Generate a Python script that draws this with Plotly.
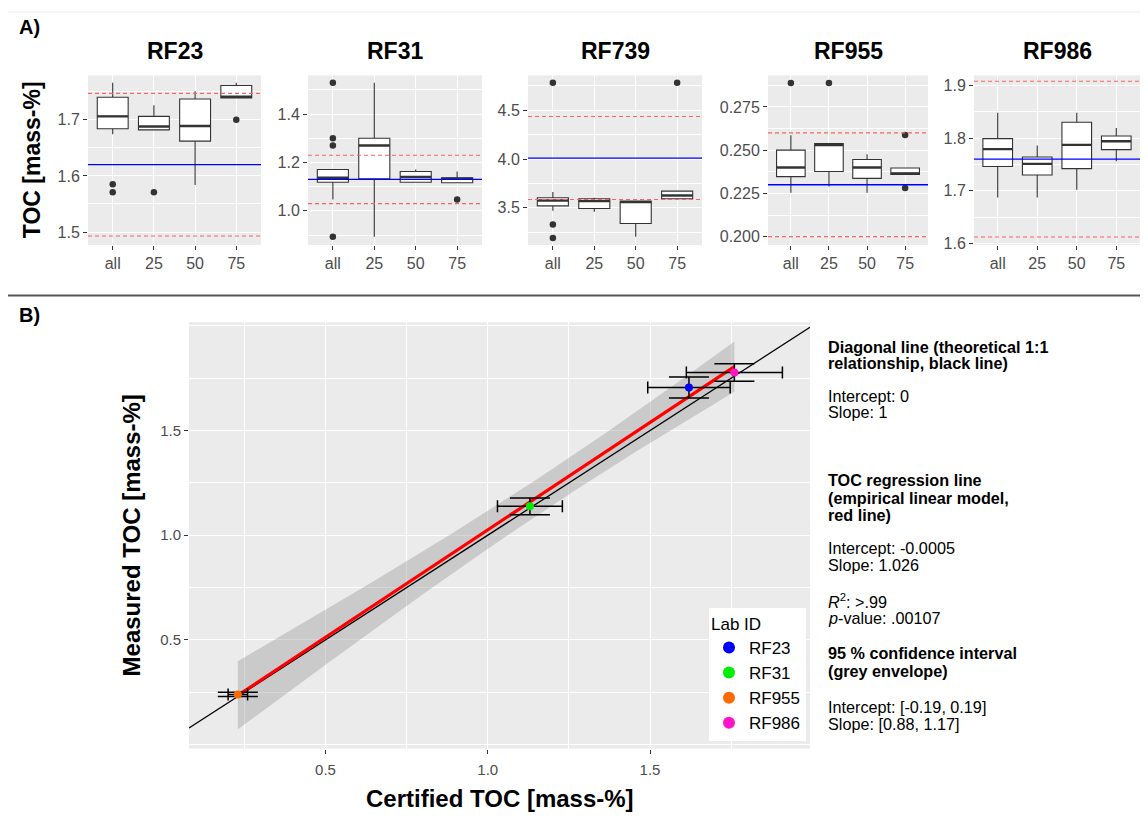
import numpy as np
import plotly.graph_objects as go

# page body has an 8px margin on every side: the figure is sized so the page never overflows
OFF = 8
W, H = 1148, 835
FIG_W, FIG_H = W - 2 * OFF, H - 2 * OFF
FONT = "Liberation Sans, Arial, Helvetica, sans-serif"

# ---------------- Panel A data (box statistics) ----------------
groups = ["all", "25", "50", "75"]
labs_a = ["RF23", "RF31", "RF739", "RF955", "RF986"]

rf23_lower = [1.674, 1.682, 1.584, 1.739]
rf23_q1 = [1.684, 1.682, 1.662, 1.739]
rf23_median = [1.706, 1.688, 1.689, 1.741]
rf23_q3 = [1.740, 1.706, 1.737, 1.761]
rf23_upper = [1.766, 1.726, 1.751, 1.766]
rf23_out_group = ["all", "all", "25", "75"]
rf23_out_value = [1.585, 1.571, 1.571, 1.700]

rf31_lower = [1.047, 0.893, 1.118, 1.116]
rf31_q1 = [1.118, 1.133, 1.118, 1.116]
rf31_median = [1.137, 1.270, 1.140, 1.133]
rf31_q3 = [1.171, 1.300, 1.163, 1.137]
rf31_upper = [1.171, 1.530, 1.171, 1.163]
rf31_out_group = ["all", "all", "all", "all", "75"]
rf31_out_value = [1.530, 1.300, 1.270, 0.893, 1.047]

rf739_lower = [3.469, 3.461, 3.203, 3.593]
rf739_q1 = [3.520, 3.493, 3.339, 3.593]
rf739_median = [3.576, 3.569, 3.559, 3.627]
rf739_q3 = [3.603, 3.593, 3.569, 3.671]
rf739_upper = [3.661, 3.603, 3.569, 3.671]
rf739_out_group = ["all", "all", "all", "75"]
rf739_out_value = [4.78, 3.33, 3.19, 4.78]

rf955_lower = [0.2254, 0.2290, 0.2254, 0.2359]
rf955_q1 = [0.2347, 0.2377, 0.2337, 0.2359]
rf955_median = [0.2400, 0.2530, 0.2400, 0.2366]
rf955_q3 = [0.2500, 0.2538, 0.2446, 0.2397]
rf955_upper = [0.2586, 0.2538, 0.2477, 0.2397]
rf955_out_group = ["all", "25", "75", "75"]
rf955_out_value = [0.2888, 0.2888, 0.2588, 0.2281]

rf986_lower = [1.687, 1.687, 1.702, 1.756]
rf986_q1 = [1.746, 1.730, 1.742, 1.778]
rf986_median = [1.779, 1.751, 1.787, 1.794]
rf986_q3 = [1.799, 1.764, 1.830, 1.804]
rf986_upper = [1.848, 1.786, 1.848, 1.819]
rf986_out_group = []
rf986_out_value = []

certified = [1.62, 1.13, 4.01, 0.23, 1.76]
tolerance = [0.127, 0.10, 0.425, 0.03, 0.148]

# ---------------- Panel B data ----------------
labs_b = ["RF23", "RF31", "RF955", "RF986"]
colors_b = ["#0000FF", "#00EE00", "#FF6A00", "#FF14C8"]
certified_b = [1.62, 1.13, 0.23, 1.76]
measured_b = [1.706, 1.138, 0.240, 1.777]
certified_err_b = [0.127, 0.10, 0.03, 0.148]
measured_err_b = [0.050, 0.040, 0.010, 0.042]

diag_intercept, diag_slope = 0.0, 1.0
T_CRIT = 4.302653  # t(0.975, df = 2)

# ---------------- layout helpers (window pixel -> paper) ----------------
def px_x(v):
    return min(max((v - OFF) / FIG_W, 0.0), 1.0)

def px_y(v):
    return min(max(1 - (v - OFF) / FIG_H, 0.0), 1.0)

def xd(a, b):
    return [px_x(a), px_x(b)]

def yd(top, bottom):
    return [px_y(bottom), px_y(top)]

panels_a = [
    dict(lower=rf23_lower, q1=rf23_q1, med=rf23_median, q3=rf23_q3, upper=rf23_upper,
         og=rf23_out_group, ov=rf23_out_value),
    dict(lower=rf31_lower, q1=rf31_q1, med=rf31_median, q3=rf31_q3, upper=rf31_upper,
         og=rf31_out_group, ov=rf31_out_value),
    dict(lower=rf739_lower, q1=rf739_q1, med=rf739_median, q3=rf739_q3, upper=rf739_upper,
         og=rf739_out_group, ov=rf739_out_value),
    dict(lower=rf955_lower, q1=rf955_q1, med=rf955_median, q3=rf955_q3, upper=rf955_upper,
         og=rf955_out_group, ov=rf955_out_value),
    dict(lower=rf986_lower, q1=rf986_q1, med=rf986_median, q3=rf986_q3, upper=rf986_upper,
         og=rf986_out_group, ov=rf986_out_value),
]

x_domains_a = [(88, 261), (308, 482), (528, 702), (768, 928), (974, 1140)]
y_dom_a = (76, 247)
y_ranges_a = [(1.477, 1.779), (0.859, 1.560), (3.120, 4.856), (0.1952, 0.2932), (1.597, 1.919)]
y_dticks_a = [0.1, 0.2, 0.5, 0.025, 0.1]
y_formats_a = [".1f", ".1f", ".1f", ".3f", ".1f"]

BOX_W = 0.75
BOX_LINE = "#333333"
TICK_COLOR = "#4D4D4D"
GRID = "white"

fig = go.Figure()
layout = dict(
    width=FIG_W, height=FIG_H, margin=dict(l=0, r=0, t=0, b=0),
    paper_bgcolor="white", plot_bgcolor="#EBEBEB",
    font=dict(family=FONT, color="black"),
    showlegend=True,
)
annotations = []
shapes = []

pos = list(range(len(groups)))
for i, (lab, p) in enumerate(zip(labs_a, panels_a)):
    k = i + 1
    xa = "x" if k == 1 else f"x{k}"
    ya = "y" if k == 1 else f"y{k}"
    fig.add_trace(go.Box(
        x=pos, q1=p["q1"], median=p["med"], q3=p["q3"],
        lowerfence=p["lower"], upperfence=p["upper"],
        width=BOX_W, whiskerwidth=0, boxpoints=False,
        fillcolor="white", line=dict(color=BOX_LINE, width=1.1),
        xaxis=xa, yaxis=ya, showlegend=False, hoverinfo="skip",
    ))
    # thicker median bars (ggplot style)
    mx, my = [], []
    for j, m in enumerate(p["med"]):
        mx += [j - BOX_W / 2, j + BOX_W / 2, None]
        my += [m, m, None]
    fig.add_trace(go.Scatter(x=mx, y=my, mode="lines",
                             line=dict(color=BOX_LINE, width=2.4),
                             xaxis=xa, yaxis=ya, showlegend=False, hoverinfo="skip"))
    if p["ov"]:
        fig.add_trace(go.Scatter(
            x=[groups.index(g) for g in p["og"]], y=p["ov"], mode="markers",
            marker=dict(color=BOX_LINE, size=6.5),
            xaxis=xa, yaxis=ya, showlegend=False, hoverinfo="skip"))

    xk = "xaxis" if k == 1 else f"xaxis{k}"
    yk = "yaxis" if k == 1 else f"yaxis{k}"
    layout[xk] = dict(
        domain=xd(*x_domains_a[i]), anchor=ya, range=[-0.6, 3.6],
        tickmode="array", tickvals=pos, ticktext=groups,
        showgrid=True, gridcolor=GRID, gridwidth=1.2, zeroline=False,
        ticks="outside", ticklen=4, tickcolor="#333333", tickwidth=1,
        tickfont=dict(size=16, color=TICK_COLOR, family=FONT),
    )
    layout[yk] = dict(
        domain=yd(*y_dom_a), anchor=xa, range=list(y_ranges_a[i]),
        dtick=y_dticks_a[i], tick0=0, tickformat=y_formats_a[i],
        showgrid=True, gridcolor=GRID, gridwidth=1.2, zeroline=False,
        minor=dict(dtick=y_dticks_a[i] / 2, tick0=0, showgrid=True,
                   gridcolor=GRID, gridwidth=0.6),
        ticks="outside", ticklen=4, tickcolor="#333333", tickwidth=1,
        tickfont=dict(size=16, color=TICK_COLOR, family=FONT),
    )
    # certified value (blue) and tolerance limits (red dashed)
    shapes.append(dict(type="line", xref=f"{xa} domain", yref=ya, x0=0, x1=1,
                       y0=certified[i], y1=certified[i], layer="above",
                       line=dict(color="#0000FF", width=1.3)))
    for s in (-1, 1):
        yv = certified[i] + s * tolerance[i]
        shapes.append(dict(type="line", xref=f"{xa} domain", yref=ya, x0=0, x1=1,
                           y0=yv, y1=yv, layer="above",
                           line=dict(color="#FA6464", width=1.1, dash="4px,3px")))
    cx = (x_domains_a[i][0] + x_domains_a[i][1]) / 2
    annotations.append(dict(text=f"<b>{lab}</b>", x=px_x(cx), y=px_y(51), xref="paper", yref="paper",
                            showarrow=False, xanchor="center", yanchor="middle",
                            font=dict(size=23, family=FONT, color="black")))

annotations.append(dict(text="<b>TOC [mass-%]</b>", x=px_x(32), y=px_y(161.5), xref="paper", yref="paper",
                        showarrow=False, textangle=-90, xanchor="center", yanchor="middle",
                        font=dict(size=23, family=FONT, color="black")))

# ---------------- Panel B ----------------
xb, yb = "x6", "y6"
xcert = np.array(certified_b)
ymeas = np.array(measured_b)
slope, intercept = np.polyfit(xcert, ymeas, 1)
n = len(xcert)
resid = ymeas - (intercept + slope * xcert)
s_res = np.sqrt(np.sum(resid ** 2) / (n - 2))
xm = xcert.mean()
sxx = np.sum((xcert - xm) ** 2)
xs = np.linspace(xcert.min(), xcert.max(), 80)
yfit = intercept + slope * xs
se = s_res * np.sqrt(1 / n + (xs - xm) ** 2 / sxx)
upper = yfit + T_CRIT * se
lower = yfit - T_CRIT * se

XR_B = [0.0795, 1.993]
YR_B = [-0.019, 2.017]

fig.add_trace(go.Scatter(
    x=np.concatenate([xs, xs[::-1]]), y=np.concatenate([upper, lower[::-1]]),
    fill="toself", fillcolor="rgba(153,153,153,0.4)", line=dict(width=0),
    mode="lines", xaxis=xb, yaxis=yb, showlegend=False, hoverinfo="skip"))
diag_x = np.array(XR_B)
fig.add_trace(go.Scatter(
    x=diag_x, y=diag_intercept + diag_slope * diag_x, mode="lines",
    line=dict(color="black", width=1.3), xaxis=xb, yaxis=yb, showlegend=False, hoverinfo="skip"))
fig.add_trace(go.Scatter(
    x=[xcert.min(), xcert.max()], y=[intercept + slope * xcert.min(), intercept + slope * xcert.max()],
    mode="lines", line=dict(color="#FF0000", width=3.2), xaxis=xb, yaxis=yb,
    showlegend=False, hoverinfo="skip"))

for lab, c, xv, yv, ex, ey in zip(labs_b, colors_b, certified_b, measured_b,
                                  certified_err_b, measured_err_b):
    fig.add_trace(go.Scatter(
        x=[xv], y=[yv], mode="markers", name=lab,
        marker=dict(color=c, size=8),
        error_x=dict(type="data", array=[ex], color="black", thickness=1.5, width=6),
        error_y=dict(type="data", array=[ey], color="black", thickness=1.5, width=20),
        xaxis=xb, yaxis=yb, hoverinfo="skip"))

layout["xaxis6"] = dict(
    domain=xd(189, 810), anchor=yb, range=XR_B, dtick=0.5, tick0=0, tickformat=".1f",
    showgrid=True, gridcolor=GRID, gridwidth=1.2, zeroline=False,
    minor=dict(tickmode="linear", tick0=0, dtick=0.25, showgrid=True, gridcolor=GRID, gridwidth=0.6),
    ticks="outside", ticklen=4, tickcolor="#333333", tickwidth=1, ticklabelstandoff=3,
    tickfont=dict(size=15, color=TICK_COLOR, family=FONT),
)
layout["yaxis6"] = dict(
    domain=yd(325, 755), anchor=xb, range=YR_B,
    tickmode="array", tickvals=[0.5, 1.0, 1.5], ticktext=["0.5", "1.0", "1.5"],
    showgrid=True, gridcolor=GRID, gridwidth=1.2, zeroline=False,
    minor=dict(tickmode="linear", tick0=0, dtick=0.25, showgrid=True, gridcolor=GRID, gridwidth=0.6),
    ticks="outside", ticklen=4, tickcolor="#333333", tickwidth=1,
    tickfont=dict(size=15, color=TICK_COLOR, family=FONT),
)

annotations.append(dict(text="<b>Certified TOC [mass-%]</b>", x=px_x(499.5), y=px_y(805),
                        xref="paper", yref="paper", showarrow=False,
                        xanchor="center", yanchor="middle",
                        font=dict(size=24, family=FONT, color="black")))
annotations.append(dict(text="<b>Measured TOC [mass-%]</b>", x=px_x(131), y=px_y(540),
                        xref="paper", yref="paper", showarrow=False, textangle=-90,
                        xanchor="center", yanchor="middle",
                        font=dict(size=24, family=FONT, color="black")))

# panel labels
for txt, yy in (("A)", 27), ("B)", 318)):
    annotations.append(dict(text=f"<b>{txt}</b>", x=px_x(17), y=px_y(yy), xref="paper", yref="paper",
                            showarrow=False, xanchor="left", yanchor="middle",
                            font=dict(size=20, family=FONT, color="black")))

# side text
side_lines = [
    ("<b>Diagonal line (theoretical 1:1</b>", 350),
    ("<b>relationship, black line)</b>", 366),
    ("Intercept: 0", 399),
    ("Slope: 1", 415),
    ("<b>TOC regression line</b>", 484),
    ("<b>(empirical linear model,</b>", 502),
    ("<b>red line)</b>", 519),
    ("Intercept: -0.0005", 553),
    ("Slope: 1.026", 570),
    ("<i>R</i><sup>2</sup>: &gt;.99", 606),
    ("<i>p</i>-value: .00107", 623),
    ("<b>95 % confidence interval</b>", 659),
    ("<b>(grey envelope)</b>", 677),
    ("Intercept: [-0.19, 0.19]", 713),
    ("Slope: [0.88, 1.17]", 730),
]
for txt, yy in side_lines:
    annotations.append(dict(text=txt, x=px_x(826), y=px_y(yy), xref="paper", yref="paper",
                            showarrow=False, xanchor="left", yanchor="middle",
                            font=dict(size=16.2, family=FONT, color="black")))

# divider and faint frame line
shapes.append(dict(type="line", xref="paper", yref="paper", x0=0, x1=1,
                   y0=px_y(298), y1=px_y(298), line=dict(color="#555555", width=2)))
shapes.append(dict(type="line", xref="paper", yref="paper", x0=0, x1=1,
                   y0=px_y(12), y1=px_y(12), line=dict(color="#ececec", width=1)))

layout["annotations"] = annotations
layout["shapes"] = shapes
layout["legend"] = dict(
    x=px_x(709), y=px_y(613), xanchor="left", yanchor="top",
    bgcolor="white", borderwidth=0,
    title=dict(text="Lab ID", font=dict(size=17, family=FONT, color="black")),
    font=dict(size=17, family=FONT, color="black"),
    itemsizing="constant", tracegroupgap=0,
)
fig.update_layout(**layout)
fig.write_html("out.html")
